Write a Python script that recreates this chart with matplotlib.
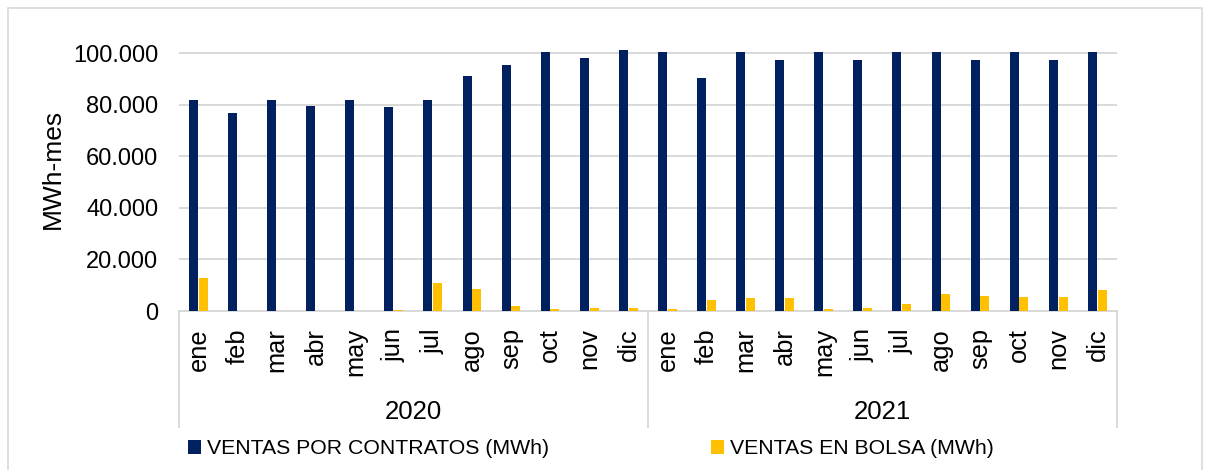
import matplotlib.pyplot as plt
import matplotlib.transforms as mtransforms
from matplotlib.patches import Rectangle
from matplotlib.ticker import FuncFormatter
import numpy as np

plt.rcParams['font.family'] = ['Liberation Sans', 'DejaVu Sans']

months = ['ene', 'feb', 'mar', 'abr', 'may', 'jun',
          'jul', 'ago', 'sep', 'oct', 'nov', 'dic']
years = ['2020', '2021']

contratos = [82000, 76700, 82000, 79500, 82000, 79300,
             82000, 91000, 95600, 100500, 98000, 101200,
             100500, 90500, 100500, 97300, 100500, 97300,
             100500, 100500, 97300, 100500, 97300, 100600]
bolsa = [12900, 0, 0, 0, 0, 200,
         10900, 8400, 1800, 600, 1000, 1000,
         600, 4200, 5200, 5000, 600, 1000,
         2600, 6500, 5800, 5500, 5500, 8200]

navy = '#002060'
yellow = '#FFC000'
grey = '#D9D9D9'

fig = plt.figure(figsize=(12.05, 4.70), dpi=100)
ax = fig.add_axes([179 / 1205, 1 - 311 / 470, 938 / 1205, 263 / 470])

x = np.arange(len(contratos))
ax.bar(x - 0.13, contratos, width=0.23, color=navy, label='VENTAS POR CONTRATOS (MWh)', zorder=3)
ax.bar(x + 0.12, bolsa, width=0.23, color=yellow, label='VENTAS EN BOLSA (MWh)', zorder=3)

ax.set_xlim(-0.5, len(contratos) - 0.5)
ax.set_ylim(0, 102000)
ax.set_yticks(range(0, 100001, 20000))
ax.yaxis.set_major_formatter(FuncFormatter(lambda v, p: f'{int(v):,}'.replace(',', '.')))
ax.tick_params(axis='y', length=0, pad=15, labelsize=17)
ax.set_xticks([])
ax.grid(axis='y', color=grey, lw=1.4, zorder=0)
for s in ['top', 'right', 'left']:
    ax.spines[s].set_visible(False)
ax.spines['bottom'].set_color(grey)
ax.spines['bottom'].set_linewidth(1.4)

# two-level category axis
trans = mtransforms.blended_transform_factory(ax.transData, ax.transAxes)
px = 1 / 263
for i, lab in enumerate(months * len(years)):
    ax.text(i, -17 * px, lab, rotation=90, ha='center', va='top',
            fontsize=18.3, transform=trans)
for k, yr in enumerate(years):
    ax.text(k * 12 + 5.5, -101 * px, yr, ha='center', va='center',
            fontsize=18.5, transform=trans)
for sx in [-0.5, 11.5, 23.5]:
    ax.plot([sx, sx], [0, -116 * px], color=grey, lw=1.4, transform=trans, clip_on=False)

fig.text(53 / 1205, 1 - 169 / 470, 'MWh-mes', rotation=90, ha='center', va='center', fontsize=19)

fig.legend(loc='center left', bbox_to_anchor=(188 / 1205, 1 - 449 / 470), ncol=2,
           frameon=False, fontsize=15.3, handlelength=0.6, handleheight=0.6,
           handletextpad=0.3, columnspacing=7.6, borderpad=0, borderaxespad=0)

fig.add_artist(Rectangle((8 / 1205, -0.01), 1194 / 1205, 1 - 8 / 470 + 0.01,
                         transform=fig.transFigure, fill=False, edgecolor=grey, lw=1.2))

fig.savefig('out.png', dpi=100)
